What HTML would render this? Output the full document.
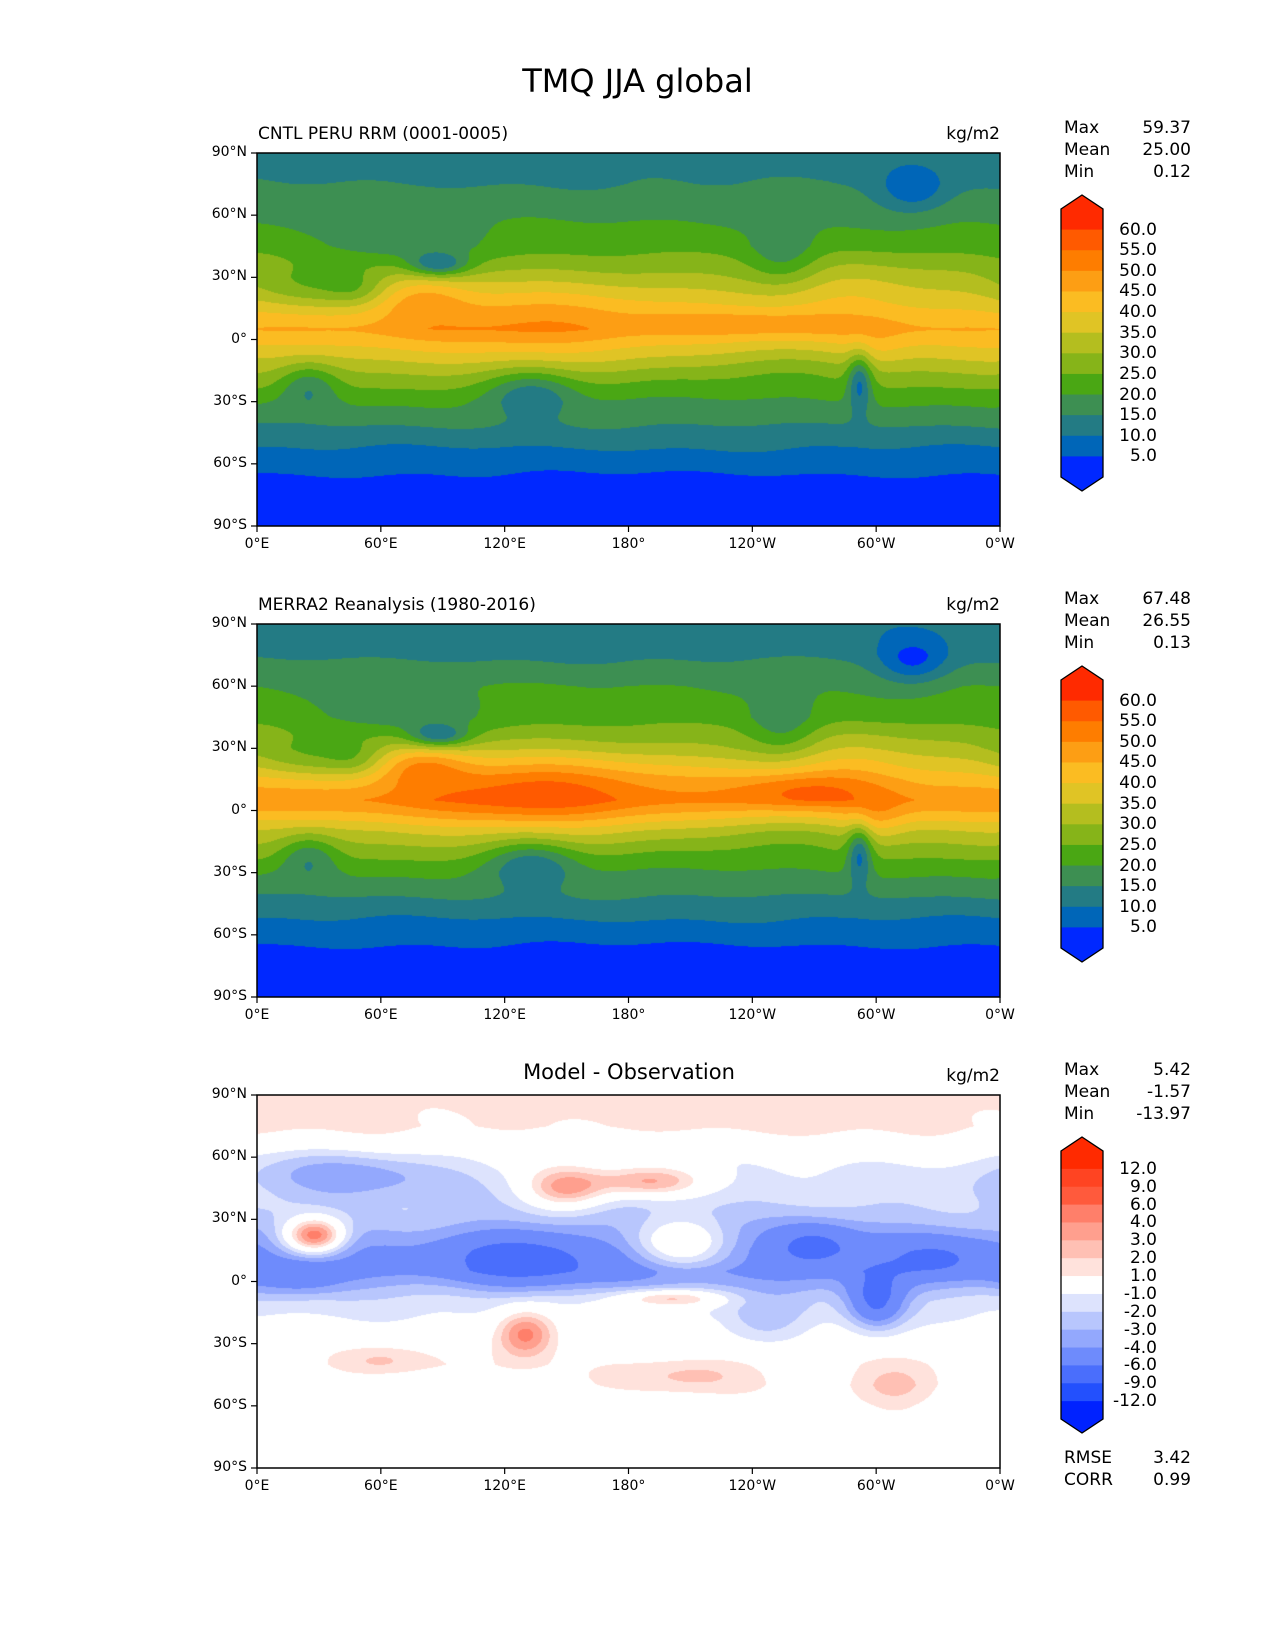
<!DOCTYPE html>
<html><head><meta charset="utf-8">
<style>
body{margin:0;background:#fff;font-family:"Liberation Sans","DejaVu Sans",sans-serif;}
#root{position:relative;width:1275px;height:1650px;overflow:hidden;background:#fff;}
canvas{position:absolute;}
.t{position:absolute;white-space:nowrap;color:#000;font-family:"DejaVu Sans","Liberation Sans",sans-serif;}
</style></head>
<body>
<div id="root">
<div class="t" style="left:0;width:1275px;text-align:center;top:62px;font-size:32px;"><span>TMQ JJA global</span></div>
<svg id="ov" width="1275" height="1650" style="position:absolute;left:0;top:0;z-index:2"></svg>
</div>
<script>
// ---------- data ----------
const lonTicks=["0°E","60°E","120°E","180°","120°W","60°W","0°W"];
const latTicks=["90°N","60°N","30°N","0°","30°S","60°S","90°S"];
const zLats=[90,75,60,45,30,15,5,0,-10,-20,-30,-40,-50,-60,-70,-90];
const zonal1=[12,15,19,23,31,40,45,42,35,28,21,16,11,7,3,1];
const zonal2=[11,14,20,23,31,43,49,45,35,28,21,16,11,7,3,1];
const zonal3=[1.5,1.2,-0.5,-1.5,-2.5,-4,-4.5,-3.5,-1.5,-0.6,0,0.5,0.5,0,0,0];
// blobs: [lon(0..360 east), lat, amplitude, sigmaLon, sigmaLat]
const blobs1=[[130,10,7,40,12],[80,20,8,15,8],[88,36,-16,10,4],[70,45,-6,25,8],[25,25,-8,20,8],[48,24,-6,10,6],[25,-22,-11,10,8],[133,-25,-11,15,8],[318,72,-10,12,8],[292,-20,-16,4,10],[260,-15,-5,30,10],[240,8,5,40,4],[300,-5,3,10,8],[255,40,-8,12,10],[290,25,4,20,10],[200,-20,-3,30,8]];
const blobs2=[[135,10,12,40,12],[80,22,11,15,7],[88,36,-16,10,4],[70,45,-6,25,8],[25,25,-8,20,8],[48,24,-6,10,6],[25,-22,-11,10,8],[133,-25,-12,15,8],[318,72,-12,12,8],[292,-20,-16,4,10],[260,-15,-5,30,10],[265,10,9,25,6],[300,-5,6,10,8],[255,40,-8,12,10],[290,25,5,20,10],[200,-20,-3,30,8]];
const blobs3=[[130,-25,5,10,8],[150,45,5,14,7],[190,48,4,18,5],[28,22,8,10,6],[200,-8,4,18,3],[205,18,4,15,8],[130,12,-3,25,10],[300,-10,-5,10,10],[270,18,-3,15,8],[20,2,-2,15,6],[310,-50,2,15,8],[210,-45,1.8,22,6],[60,-38,1.8,15,5],[45,52,-2.5,35,8],[245,-20,-2,15,8],[330,12,-2,20,8]];
const levels1=[5,10,15,20,25,30,35,40,45,50,55,60];
const colors1=["#0028ff","#0066b8","#237b84","#3d8f52","#4aa714","#86b419","#b4be1f","#e0c425","#fbbc22","#fd9e14","#fe7d00","#ff5a00","#ff2a00"];
const labels1=["60.0","55.0","50.0","45.0","40.0","35.0","30.0","25.0","20.0","15.0","10.0","5.0"];
const levels3=[-12,-9,-6,-4,-3,-2,-1,1,2,3,4,6,9,12];
const colors3=["#0022ff","#2350fd","#4a6efc","#6e8bfc","#93a8fd","#b8c6fd","#dde3fd","#ffffff","#ffe2dc","#ffc0b4","#ff9f8e","#ff7f6a","#ff5a3c","#ff4422","#ff2a00"];
const labels3=["12.0","9.0","6.0","4.0","3.0","2.0","1.0","-1.0","-2.0","-3.0","-4.0","-6.0","-9.0","-12.0"];
const panels=[
 {top:153,title:"CNTL PERU RRM (0001-0005)",center:false,zonal:zonal1,blobs:blobs1,levels:levels1,colors:colors1,labels:labels1,stats:[["Max","59.37"],["Mean","25.00"],["Min","0.12"]]},
 {top:624,title:"MERRA2 Reanalysis (1980-2016)",center:false,zonal:zonal2,blobs:blobs2,levels:levels1,colors:colors1,labels:labels1,stats:[["Max","67.48"],["Mean","26.55"],["Min","0.13"]]},
 {top:1095,title:"Model - Observation",center:true,zonal:zonal3,blobs:blobs3,levels:levels3,colors:colors3,labels:labels3,stats:[["Max","5.42"],["Mean","-1.57"],["Min","-13.97"]],extra:[["RMSE","3.42"],["CORR","0.99"]]}
];
// ---------- drawing ----------
const L=257,W=743,H=373,CBX=1061,CBW=42,CBT=209,CBB=477;
const root=document.getElementById('root'),ov=document.getElementById('ov');
const NS="http://www.w3.org/2000/svg";
function zon(arr,lat){for(let i=0;i<zLats.length-1;i++){if(lat<=zLats[i]&&lat>=zLats[i+1]){const f=(zLats[i]-lat)/(zLats[i]-zLats[i+1]);return arr[i]+(arr[i+1]-arr[i])*f;}}return arr[arr.length-1];}
function hex(c){return [parseInt(c.substr(1,2),16),parseInt(c.substr(3,2),16),parseInt(c.substr(5,2),16)];}
function svgEl(tag,attrs,name){const e=document.createElementNS(NS,tag);for(const k in attrs)e.setAttribute(k,attrs[k]);
 
 
 ov.appendChild(e);return e;}
function txt(s,left,top,size,align,name){const d=document.createElement('div');d.className='t';d.textContent=s;d.style.fontSize=size+'px';d.style.top=top+'px';
 if(align==='right'){d.style.right=(1275-left)+'px';}else if(align==='center'){d.style.left=(left-200)+'px';d.style.width='400px';d.style.textAlign='center';}else d.style.left=left+'px';
 
 
 root.appendChild(d);return d;}
panels.forEach((p,pi)=>{
 const cv=document.createElement('canvas');cv.width=W;cv.height=H;cv.style.left=L+'px';cv.style.top=p.top+'px';
 
 
 root.appendChild(cv);
 const ctx=cv.getContext('2d');const img=ctx.createImageData(W,H);const cols=p.colors.map(hex);
 for(let j=0;j<H;j++){const lat=90-(j+0.5)/H*180;const z=zon(p.zonal,lat);
  for(let i=0;i<W;i++){const lon=(i+0.5)/W*360;let v=z;
   for(const b of p.blobs){let dl=lon-b[0];if(dl>180)dl-=360;if(dl<-180)dl+=360;const e=(dl*dl)/(b[3]*b[3])+((lat-b[1])*(lat-b[1]))/(b[4]*b[4]);if(e<12)v+=b[2]*Math.exp(-e/2);}
   v+=(pi==2?0.4:0.8)*Math.sin(lon/17+lat/9)*Math.cos(lat/13-lon/29);
   let k=0;while(k<p.levels.length&&v>=p.levels[k])k++;
   const c=cols[k];const o=(j*W+i)*4;img.data[o]=c[0];img.data[o+1]=c[1];img.data[o+2]=c[2];img.data[o+3]=255;}}
 ctx.putImageData(img,0,0);
 svgEl('rect',{x:L,y:p.top,width:W,height:H,fill:'none',stroke:'#000','stroke-width':1.5},'map-frame-'+(pi+1));
 lonTicks.forEach((t,i)=>{const x=L+i*W/6;svgEl('line',{x1:x,x2:x,y1:p.top+H,y2:p.top+H+6,stroke:'#000','stroke-width':1.2},'x-tick');txt(t,x,p.top+H+10,14,'center','x-tick-label');});
 latTicks.forEach((t,i)=>{const y=p.top+i*H/6;svgEl('line',{x1:L-6,x2:L,y1:y,y2:y,stroke:'#000','stroke-width':1.2},'y-tick');txt(t,L-10,y-9,14,'right','y-tick-label');});
 if(p.center)txt(p.title,629,p.top-35,21,'center','panel-title');else txt(p.title,L+1,p.top-29,17,'left','panel-title');
 txt("kg/m2",1000,p.top-29,17,'right','units-label');
 p.stats.forEach((s,i)=>{txt(s[0],1064,p.top-35+i*22,17,'left','stat-name');txt(s[1],1191,p.top-35+i*22,17,'right','stat-value');});
 if(p.extra)p.extra.forEach((s,i)=>{txt(s[0],1064,p.top+353+i*22,17,'left','stat-name');txt(s[1],1191,p.top+353+i*22,17,'right','stat-value');});
 const off=p.top-153,n=p.colors.length,bh=(CBB-CBT)/n,ct=CBT+off,cb=CBB+off;
 for(let k=0;k<n;k++){const idx=n-1-k;
  svgEl('rect',{x:CBX,y:ct+k*bh,width:CBW,height:bh+0.6,fill:p.colors[idx]},'colorbar-band');}
 svgEl('polygon',{points:`${CBX},${ct} ${CBX+CBW/2},${ct-14} ${CBX+CBW},${ct}`,fill:p.colors[n-1]},'colorbar-extend-top');
 svgEl('polygon',{points:`${CBX},${cb} ${CBX+CBW/2},${cb+14} ${CBX+CBW},${cb}`,fill:p.colors[0]},'colorbar-extend-bottom');
 svgEl('polygon',{points:`${CBX},${ct} ${CBX+CBW/2},${ct-14} ${CBX+CBW},${ct} ${CBX+CBW},${cb} ${CBX+CBW/2},${cb+14} ${CBX},${cb}`,fill:'none',stroke:'#000','stroke-width':1.3},'colorbar-outline');
 p.labels.forEach((l,k)=>{const y=ct+(k+1)*bh;txt(l,1157,y-10,17,'right','colorbar-label');});
});
</script>
</body></html>
